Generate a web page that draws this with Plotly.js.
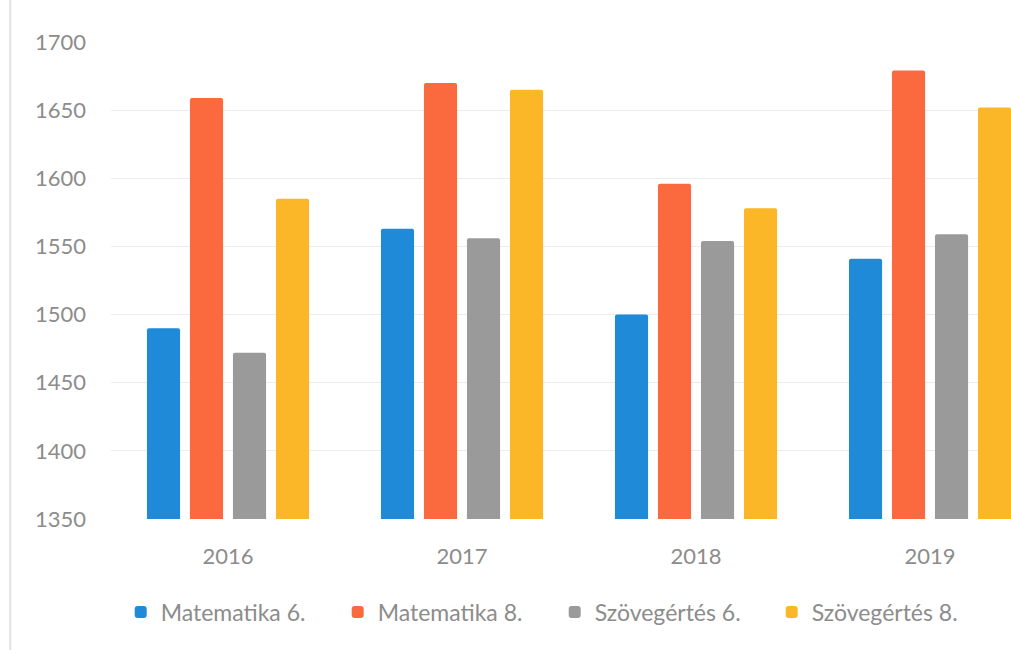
<!DOCTYPE html>
<html>
<head>
<meta charset="utf-8">
<script src="https://cdn.plot.ly/plotly-3.0.1.min.js"></script>
<style>html,body{margin:0;padding:0;background:#fff;}#chart{width:1011px;height:650px;}</style>
</head>
<body>
<div id="chart"></div>
<script>
const years = ['2016', '2017', '2018', '2019'];
const seriesNames = ['Matematika 6.', 'Matematika 8.', 'Szövegértés 6.', 'Szövegértés 8.'];
const matematika6 = [1490, 1563, 1500, 1541];
const matematika8 = [1659, 1670, 1596, 1679];
const szovegertes6 = [1472, 1556, 1554, 1559];
const szovegertes8 = [1585, 1665, 1578, 1652];
const yTicks = [1350, 1400, 1450, 1500, 1550, 1600, 1650, 1700];
const colors = ['#1f8ad8', '#fb6a3f', '#9a9a9a', '#fbb728'];

const allValues = [matematika6, matematika8, szovegertes6, szovegertes8];
const traces = allValues.map((vals, i) => ({
  type: 'bar',
  name: seriesNames[i],
  x: years,
  y: vals,
  marker: {color: colors[i], cornerradius: 2},
  hoverinfo: 'x+y+name'
}));

const layout = {
  width: 1011,
  height: 650,
  margin: {l: 111, r: 0, t: 42, b: 131},
  paper_bgcolor: '#ffffff',
  plot_bgcolor: '#ffffff',
  font: {family: 'Lato, "Open Sans", sans-serif', color: '#8c8c8c', size: 21},
  barmode: 'group',
  bargap: 0.265,
  bargroupgap: 0.23,
  showlegend: true,
  legend: {
    orientation: 'h',
    x: 0.493, xanchor: 'center',
    y: -0.195, yanchor: 'middle',
    font: {size: 23, color: '#8c8c8c'},
    itemwidth: 30,
    entrywidth: 172,
    entrywidthmode: 'pixels',
    traceorder: 'normal'
  },
  xaxis: {
    type: 'category',
    range: [-0.5, 3.346],
    showgrid: false,
    zeroline: false,
    showline: false,
    ticks: '',
    ticklabelstandoff: 22,
    tickfont: {size: 22, color: '#8c8c8c'}
  },
  yaxis: {
    range: [1350, 1700],
    tickvals: yTicks,
    ticktext: yTicks.map(String),
    showgrid: true,
    gridcolor: '#ececec',
    gridwidth: 1,
    zeroline: false,
    showline: false,
    ticks: '',
    ticklabelstandoff: 24,
    tickfont: {size: 22, color: '#8c8c8c'}
  },
  shapes: [{
    type: 'line', xref: 'paper', yref: 'paper',
    x0: -0.112, x1: -0.112, y0: -0.3, y1: 1.1,
    line: {color: '#e2e2e2', width: 2}
  }]
};

Plotly.newPlot('chart', traces, layout, {displayModeBar: false, staticPlot: true});
</script>
</body>
</html>
